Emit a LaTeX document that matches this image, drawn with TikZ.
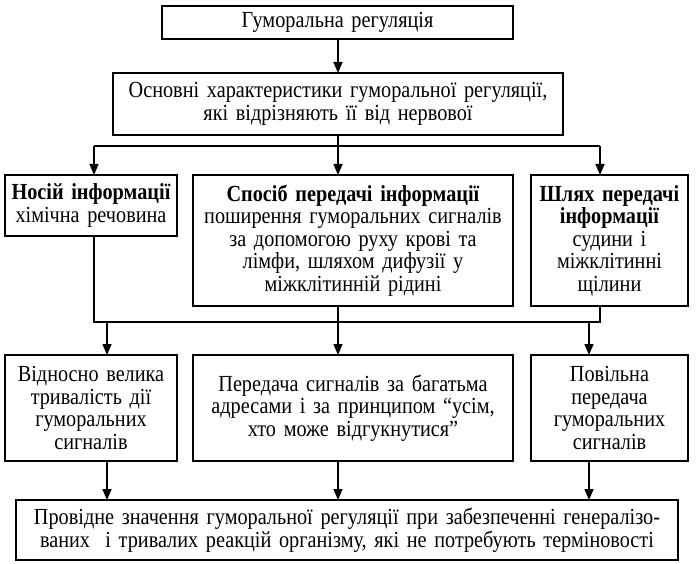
\documentclass[tikz,border=0pt]{standalone}
\usepackage{fontspec}
\setmainfont{Liberation Serif}[FakeStretch=0.88]
\usepackage{tikz}
\usetikzlibrary{arrows.meta, positioning, calc}

\tikzset{
  blk/.style={draw, line width=1.6pt, inner sep=2pt, outer sep=0pt, align=center,
    font=\fontsize{23pt}{22.5pt}\selectfont},
  lnk/.style={line width=1.5pt},
  arr/.style={lnk, -{Triangle[length=11pt, width=9pt]}}
}

\begin{document}
\begin{tikzpicture}[x=1pt, y=-1pt]
  \useasboundingbox (0,0) rectangle (698,564);
  \node[blk, minimum width=351pt, minimum height=33pt, text width=347pt] (reg) at (337.5,22.5)
    {Гуморальна регуляція};
  \node[blk, minimum width=450pt, minimum height=62pt, text width=446pt] (feat) at (338,104)
    {Основні характеристики гуморальної регуляції,\\ які відрізняють її від нервової};
  % row of three features
  \node[blk, minimum width=172pt, minimum height=61pt, text width=168pt] (carrier) at (91,205.5)
    {\textbf{Носій інформації}\\ хімічна речовина};
  \node[blk, minimum width=320pt, minimum height=131pt, text width=316pt] (mode) at (353,240.5)
    {\textbf{Спосіб передачі інформації}\\ поширення гуморальних сигналів\\ за допомогою руху крові та\\ лімфи, шляхом дифузії у\\ міжклітинній рідині};
  \node[blk, minimum width=157pt, minimum height=131pt, text width=153pt] (path) at (609.5,240.5)
    {\textbf{Шлях передачі}\\ \textbf{інформації}\\ судини і\\ міжклітинні\\ щілини};
  % row of consequences
  \node[blk, minimum width=172pt, minimum height=106pt, text width=168pt] (durat) at (91,408)
    {Відносно велика\\ тривалість дії\\ гуморальних\\ сигналів};
  \node[blk, minimum width=320pt, minimum height=106pt, text width=316pt] (multi) at (353,408)
    {Передача сигналів за багатьма\\ адресами і за принципом “усім,\\ хто може відгукнутися”};
  \node[blk, minimum width=157pt, minimum height=106pt, text width=153pt] (slow) at (609.5,408)
    {Повільна\\ передача\\ гуморальних\\ сигналів};
  \node[blk, minimum width=662pt, minimum height=60pt, text width=658pt] (lead) at (347,530)
    {Провідне значення гуморальної регуляції при забезпеченні генералізо-\\ ваних\ \ і тривалих реакцій організму, які не потребують терміновості};

  \coordinate (bl) at (94,146);
  \coordinate (br) at (600,146);
  \coordinate (cl) at (94,322);
  \coordinate (cr) at (600,322);
  \coordinate (dl) at (107,322);
  \coordinate (dr) at (589,322);

  \draw[arr] (reg.south -| feat.north) -- (feat.north);
  \draw[lnk] (feat.south) -- (feat.south |- bl);
  \draw[lnk] (bl) -- (br);
  \draw[arr] (bl) -- (bl |- carrier.north);
  \draw[arr] (feat.south |- bl) -- (feat.south |- mode.north);
  \draw[arr] (br) -- (br |- path.north);

  \draw[lnk] (bl |- carrier.south) -- (cl) -- (cr) -- (br |- path.south);
  \draw[lnk] (feat.south |- mode.south) -- (feat.south |- cl);
  \draw[arr] (dl) -- (dl |- durat.north);
  \draw[arr] (feat.south |- cl) -- (feat.south |- multi.north);
  \draw[arr] (dr) -- (dr |- slow.north);

  \draw[arr] (dl |- durat.south) -- (dl |- lead.north);
  \draw[arr] (feat.south |- multi.south) -- (feat.south |- lead.north);
  \draw[arr] (dr |- slow.south) -- (dr |- lead.north);
\end{tikzpicture}
\end{document}
